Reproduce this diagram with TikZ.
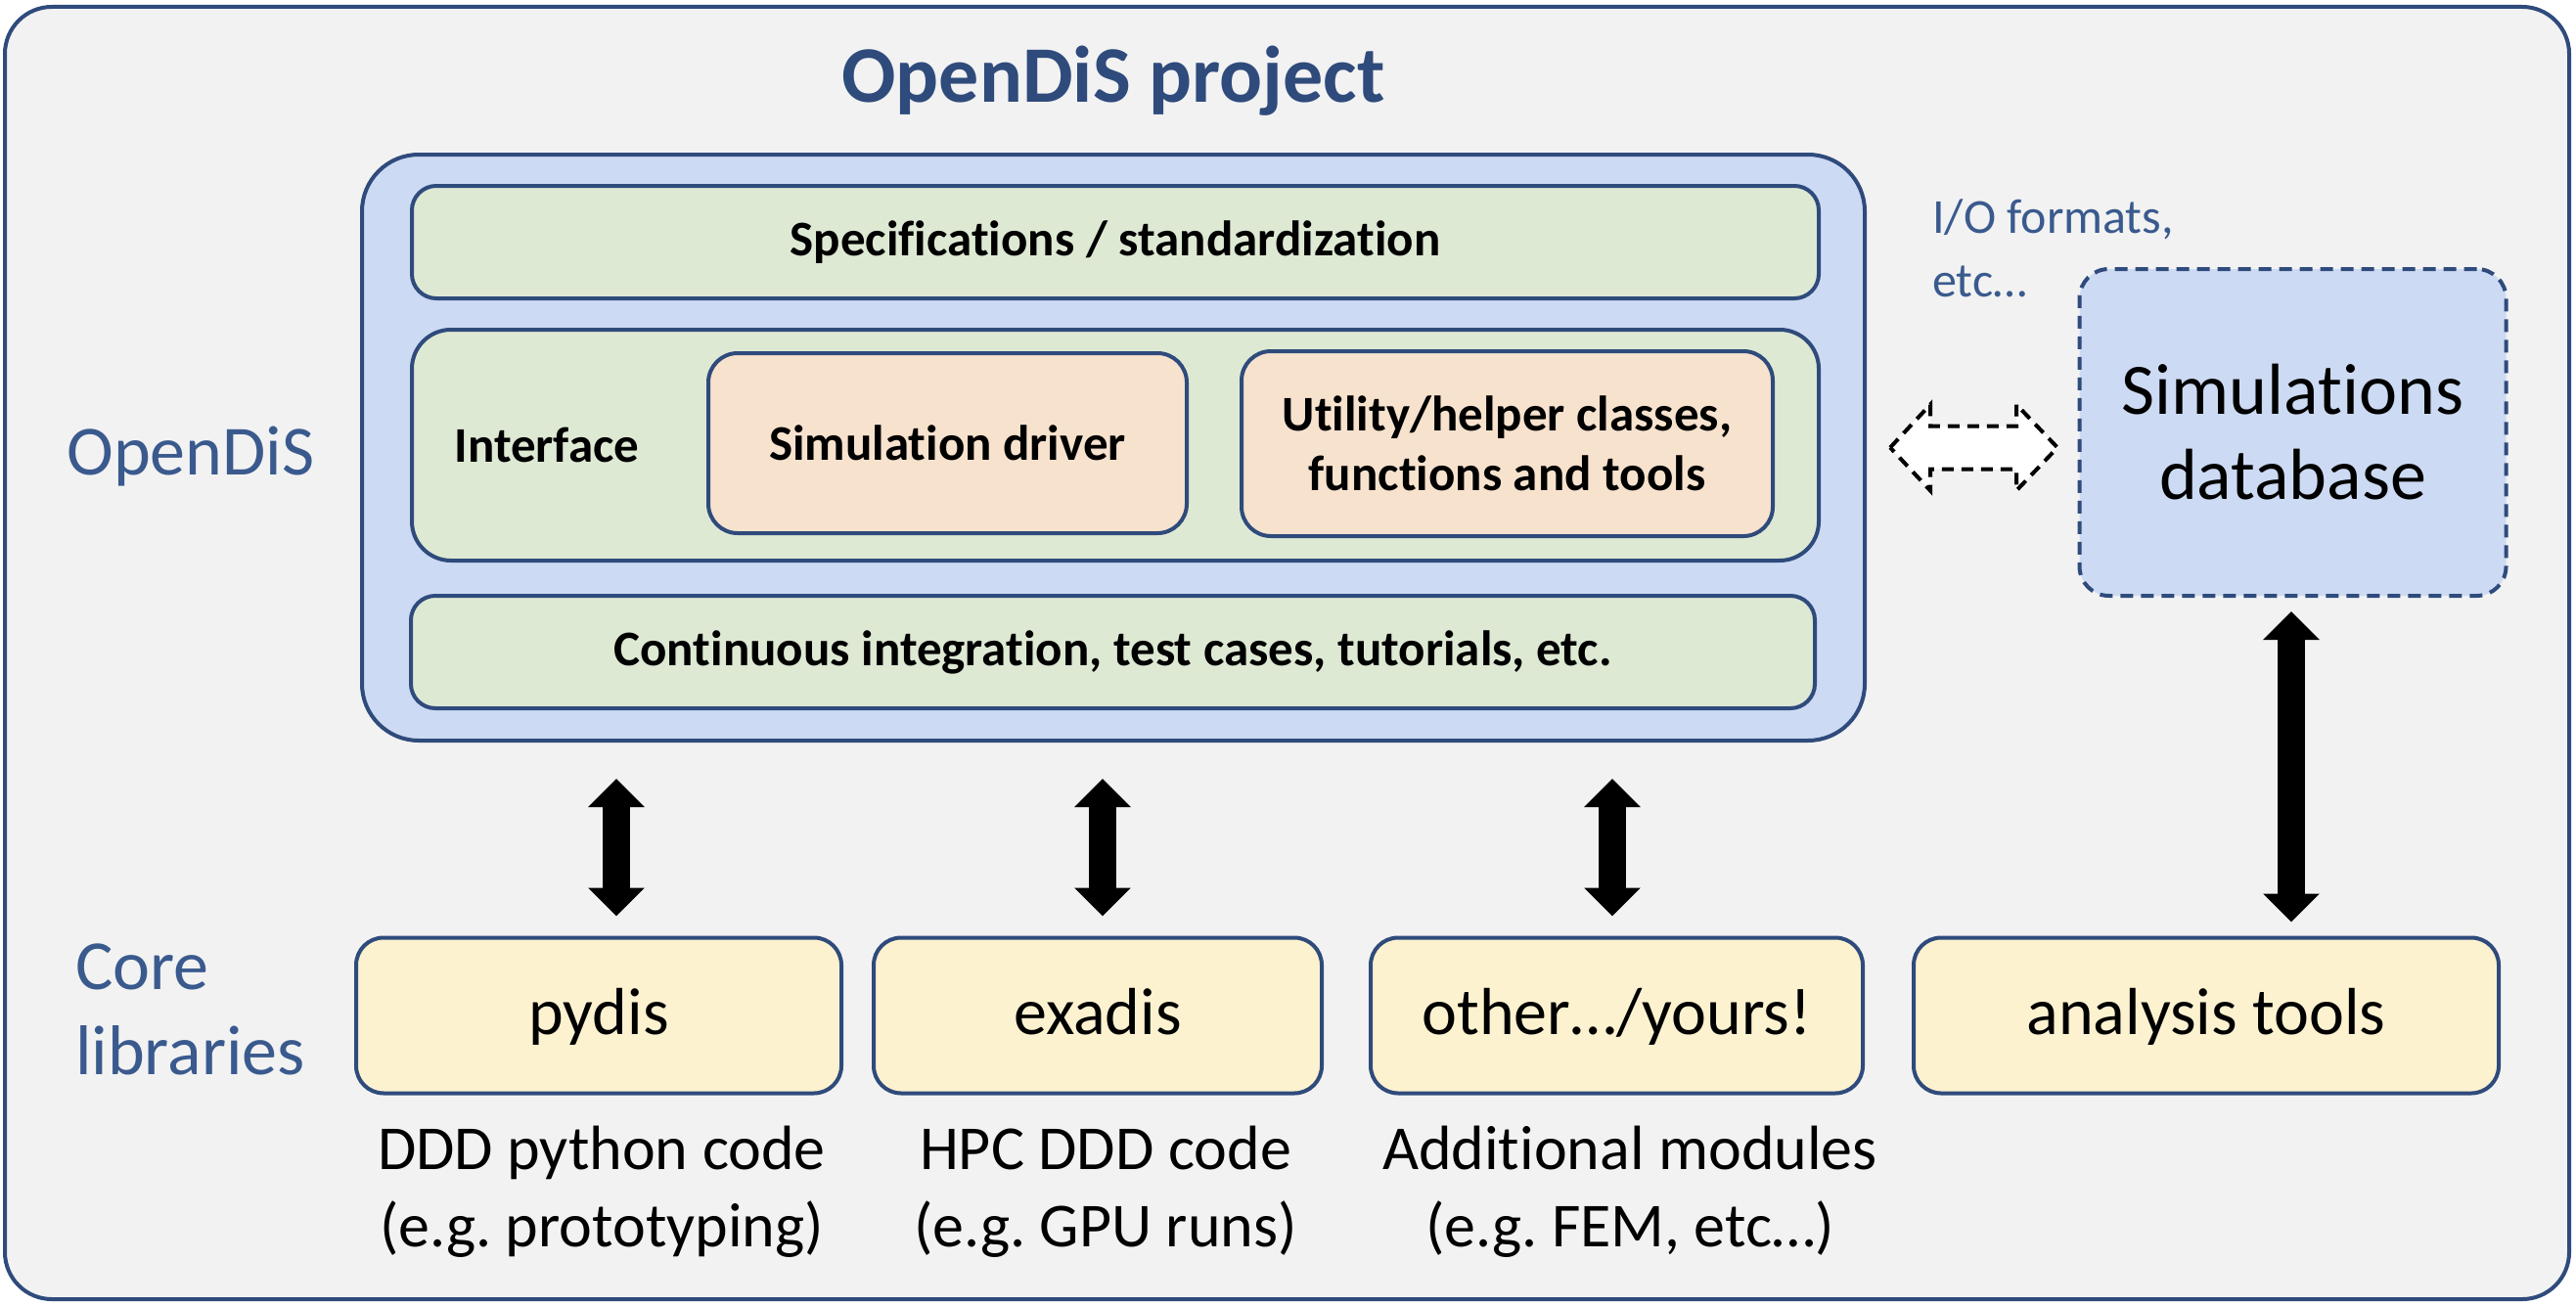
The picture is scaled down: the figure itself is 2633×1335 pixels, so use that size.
\documentclass[tikz,border=0pt]{standalone}
\usepackage{fontspec}
\setmainfont{Carlito}[Ligatures={NoCommon}]
\usetikzlibrary{arrows.meta,calc}
\definecolor{bgc}{HTML}{F2F2F2}
\definecolor{bordc}{HTML}{2F4B7C}
\definecolor{bluef}{HTML}{CDDAF3}
\definecolor{greenf}{HTML}{DEE9D4}
\definecolor{peachf}{HTML}{F7E2CE}
\definecolor{yellowf}{HTML}{FDF2D0}
\definecolor{titlec}{HTML}{2F4B7C}
\definecolor{labc}{HTML}{3A5A8E}
\newcommand{\fs}[2]{\fontsize{#1}{#2}\selectfont}
\frenchspacing
\tikzset{
  box/.style={draw=bordc, line width=4pt, inner sep=0pt, outer sep=0pt, align=center},
  outerbox/.style={box, fill=bgc, rounded corners=48pt},
  bluebox/.style={box, fill=bluef, rounded corners=58pt},
  greenbox/.style={box, fill=greenf, rounded corners=#1, font=\fs{51}{61}\bfseries},
  peachbox/.style={box, fill=peachf, rounded corners=30pt, font=\fs{51}{61}\bfseries},
  libbox/.style={box, fill=yellowf, rounded corners=28pt, minimum height=159pt, text height=49pt, text depth=11pt, font=\fs{68}{82}},
  dbbox/.style={box, fill=bluef, rounded corners=30pt, dash pattern=on 13pt off 8pt, font=\fs{74}{87}},
  sidelab/.style={text=labc, inner sep=0pt, align=left, font=\fs{72}{87}},
  caption/.style={inner sep=0pt, align=center, font=\fs{64}{79}},
  bigarr/.style={line width=28pt, {Triangle[width=56pt,length=29pt]}-{Triangle[width=56pt,length=29pt]}},
  dasharr/.style={draw=black, fill=white, line width=4pt, dash pattern=on 12pt off 8pt, line join=miter}
}
\begin{document}
\begin{tikzpicture}[x=1pt,y=-1pt]
\useasboundingbox (0,0) rectangle (2633,1335);
\fill[white] (0,0) rectangle (2633,1335);

\node[outerbox, minimum width=2621pt, minimum height=1321pt] (outer) at (1315.5,667.5) {};
\node[anchor=base, inner sep=0pt, text=titlec, font=\fs{82}{98}\bfseries] (title) at (1138,105) {OpenDiS project};

% OpenDiS block
\node[bluebox, minimum width=1536pt, minimum height=599pt] (blue) at (1138,457.5) {};
\node[greenbox=25pt, minimum width=1438pt, minimum height=115pt] (spec) at (1140,247.5) {Specifications / standardization};
\node[greenbox=40pt, minimum width=1438pt, minimum height=236pt] (mid) at (1140,455) {};
\node[anchor=base, inner sep=0pt, font=\fs{51}{61}\bfseries] (iface) at (559,472) {Interface};
\node[peachbox, minimum width=489pt, minimum height=184pt] (simdrv) at (968.5,453) {Simulation driver};
\node[peachbox, minimum width=543pt, minimum height=189pt] (util) at (1540.5,453.5) {Utility/helper classes,\\functions and tools};
\node[greenbox=25pt, minimum width=1435pt, minimum height=115pt] (ci) at (1137.5,666.5) {Continuous integration, test cases, tutorials, etc.};

% side labels
\node[sidelab, anchor=base] (lopendis) at (195,485) {OpenDiS};
\node[sidelab, anchor=west] (lcore) at (77,1031.5) {Core\\libraries};

% database
\node[dbbox, minimum width=436pt, minimum height=334pt] (db) at (2343.5,442) {Simulations\\database};
\node[anchor=west, inner sep=0pt, align=left, text=labc, font=\fs{50}{65}] (io) at (1975,254) {I/O formats,\\etc…};

% libraries
\node[libbox, minimum width=496pt] (pydis) at (612,1038) {pydis};
\node[libbox, minimum width=458pt] (exadis) at (1122,1038) {exadis};
\node[libbox, minimum width=503pt] (other) at (1652.5,1038) {other…/yours!};
\node[libbox, minimum width=598pt] (analysis) at (2255,1038) {analysis tools};

% captions
\node[caption, anchor=north] (cap1) at (615,1151) {DDD python code\\(e.g. prototyping)};
\node[caption, anchor=north] (cap2) at (1130,1151) {HPC DDD code\\(e.g. GPU runs)};
\node[caption, anchor=north] (cap3) at (1666,1151) {Additional modules\\(e.g. FEM, etc…)};

% connectors
\coordinate (ax1) at (630,0);
\coordinate (ax2) at (1127,0);
\coordinate (ax3) at (1648,0);
\coordinate (ax4) at (2342,0);
\draw[bigarr, shorten <=39pt, shorten >=22pt] (blue.south -| ax1) -- (pydis.north -| ax1);
\draw[bigarr, shorten <=39pt, shorten >=22pt] (blue.south -| ax2) -- (exadis.north -| ax2);
\draw[bigarr, shorten <=39pt, shorten >=22pt] (blue.south -| ax3) -- (other.north -| ax3);
\draw[bigarr, shorten <=16pt, shorten >=16pt] (db.south -| ax4) -- (analysis.north -| ax4);

\draw[dasharr] ([xshift=26pt]blue.east) -- ++(41,-44) -- ++(0,22) -- ++(88,0) -- ++(0,-22)
  -- ++(42,44) -- ++(-42,44) -- ++(0,-22) -- ++(-88,0) -- ++(0,22) -- cycle;
\end{tikzpicture}
\end{document}
